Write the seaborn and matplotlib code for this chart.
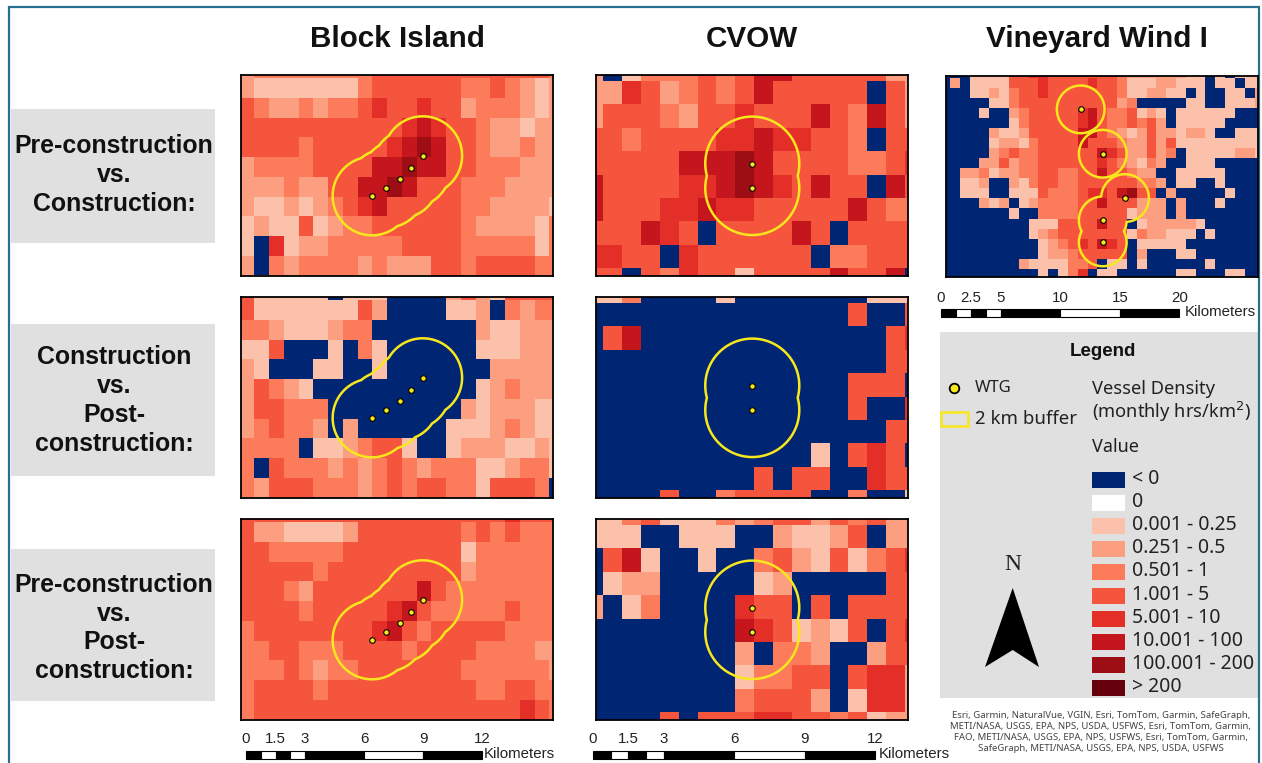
import numpy as np
import matplotlib
matplotlib.use("Agg")
import matplotlib.pyplot as plt
from matplotlib.colors import ListedColormap
from matplotlib.patches import Rectangle, Polygon
import seaborn as sns

W, H = 1262, 763

# class index per cell: 0 "< 0", 1 "0", 2 "0.001 - 0.25" ... 9 "> 200"
CLASS_LABELS = ["< 0", "0", "0.001 - 0.25", "0.251 - 0.5", "0.501 - 1", "1.001 - 5",
                "5.001 - 10", "10.001 - 100", "100.001 - 200", "> 200"]
CLASS_COLORS = ["#002673", "#ffffff", "#fcc1ab", "#fc9e80", "#fb7b5b", "#f5553c",
                "#e32f27", "#c4161c", "#9c0d14", "#67000d"]

BLOCK_PRE_CON = [
    "3444444445555555555554", "3222222245555554454323", "5433434456556553444323",
    "5555555555567655433233", "5555455555678755433433", "3444455557787755444333",
    "3334335577875554443333", "3223234567555554433332", "2322523445555554333324",
    "2062334444455554444424", "3043444434333554555544", "3344444334333555455544",
]
BLOCK_CON_POST = [
    "5222220222000035325555", "5222222253000022304344", "4432223440000000322333",
    "2250002042000000222333", "3200022002000000033333", "3543200000000000234333",
    "3554440000000003233322", "3454430300000022234322", "4444022345520023332232",
    "4054443434543444223442", "4355544434545544255540", "2355555434545544255540",
]
BLOCK_PRE_POST = [
    "5555555555555555556555", "5332222355555554545444", "5544444555555552444444",
    "5555545555555553444444", "5554355555557544444444", "5555455555675444445444",
    "4555555556754555554444", "4455444555545555444433", "4445434455555554444443",
    "4555545555555555445544", "4555555555555555555654", "3445555555555555555654",
]
CVOW_PRE_CON = [
    "302444545775555533", "336534545755555053", "355543556555754753", "554555566766554055",
    "555557778755554456", "755556678765755075", "755566766555557544", "555765055557505555",
    "665506555555044555", "550546552555575570",
]
CVOW_CON_POST = [
    "224000020000000222", "000000000000005005", "057000000000000056", "000000000000000055",
    "000000000000005550", "000000000000005006", "000000000000000055", "000000000000205650",
    "000000000505500655", "000050045555004002",
]
CVOW_PRE_POST = [
    "224522243455354533", "222002220032235033", "057200200453252456", "023300000230000055",
    "302400006550505555", "000000007652325056", "000000003044300355", "000000002445505663",
    "000000004555302663", "000050555665545233",
]
VINEYARD_PRE_CON = [
    "000222255665555555433333322020222", "030222255565555655422233222022022",
    "000223245565555555422332202002203", "000002245555555555340000022002223",
    "000020034555556754452320222222000", "000000024555556754454530222220000",
    "000003223555557754323533233200222", "000002332455557555433535222222222",
    "000003454455555576533534022222332", "000033534455555565432430022200000",
    "003342334455445575543300222220000", "002230032455445555554430220020000",
    "002220022254445665785503000002000", "000032302344445575553330300020000",
    "000000020044445555523330300000000", "000000000222555575502333332000000",
    "000000000234555555524332220200000", "000000000023456576502222200000000",
    "000000000023345555503000220000000", "000000003222244502202000000200000",
    "000000000020246022000000220002200",
]

# turbine positions in km from the panel's top left corner
BLOCK_X = [6.66, 7.39, 8.07, 8.66, 9.24]
BLOCK_Y = [6.15, 5.76, 5.29, 4.73, 4.10]
CVOW_X = [6.65, 6.65]
CVOW_Y = [3.77, 4.81]
VINEYARD_X = [11.30, 13.15, 15.02, 13.15, 13.15]
VINEYARD_Y = [2.80, 6.52, 10.24, 12.11, 13.96]
BUFFER_KM = 2.0

COLUMN_TITLES = ["Block Island", "CVOW", "Vineyard Wind I"]
ROW_TITLES = ["Pre-construction\nvs.\nConstruction:", "Construction\nvs.\nPost-\nconstruction:",
              "Pre-construction\nvs.\nPost-\nconstruction:"]
ATTRIBUTION = ("Esri, Garmin, NaturalVue, VGIN, Esri, TomTom, Garmin, SafeGraph,\n"
               "METI/NASA, USGS, EPA, NPS, USDA, USFWS, Esri, TomTom, Garmin,\n"
               "FAO, METI/NASA, USGS, EPA, NPS, USFWS, Esri, TomTom, Garmin,\n"
               "SafeGraph, METI/NASA, USGS, EPA, NPS, USDA, USFWS")

SCALE_BLOCK = [0, 0.75, 1.5, 2.25, 3, 6, 9, 12]
SCALE_BLOCK_LABELS = ["0", "1.5", "3", "6", "9", "12"]
SCALE_VINEYARD = [0, 1.25, 2.5, 3.75, 5, 10, 15, 20]
SCALE_VINEYARD_LABELS = ["0", "2.5", "5", "10", "15", "20"]

YELLOW = "#f8e71c"
ARIAL = "Liberation Sans"
TAHOMA = "Noto Sans"

sns.set_theme(style="white")
plt.rcParams["font.family"] = [ARIAL, "DejaVu Sans"]
fig = plt.figure(figsize=(W / 100, H / 100), dpi=100, facecolor="white")


def px_axes(x0, y0, x1, y1, **kw):
    return fig.add_axes([x0 / W, 1 - y1 / H, (x1 - x0) / W, (y1 - y0) / H], **kw)


# page layer in pixel coordinates for the furniture around the maps
page = px_axes(0, 0, W, H)
page.set_xlim(0, W)
page.set_ylim(H, 0)
page.axis("off")


def draw_panel(rect, rows, x_start, x_span, y_start, y_span, km_x, km_y, px_per_km):
    ax = px_axes(*rect)
    grid = np.array([[int(c) for c in row] for row in rows])
    sns.heatmap(grid, ax=ax, cmap=ListedColormap(CLASS_COLORS), vmin=-0.5, vmax=9.5, cbar=False,
                xticklabels=False, yticklabels=False, square=False)
    ax.set_xlim(x_start, x_start + x_span)
    ax.set_ylim(y_start + y_span, y_start)
    for side in ax.spines.values():
        side.set_visible(True)
        side.set_color("black")
        side.set_linewidth(1.3)

    # overlay in km for the turbines and their merged 2 km buffer
    w_km = (rect[2] - rect[0]) / px_per_km
    h_km = (rect[3] - rect[1]) / px_per_km
    over = px_axes(*rect)
    over.patch.set_alpha(0)
    over.set_xlim(0, w_km)
    over.set_ylim(h_km, 0)
    over.axis("off")
    xx, yy = np.meshgrid(np.linspace(0, w_km, 700), np.linspace(0, h_km, 500))
    dist = np.min([np.hypot(xx - x, yy - y) for x, y in zip(km_x, km_y)], axis=0)
    over.contour(xx, yy, dist, levels=[BUFFER_KM], colors=YELLOW, linewidths=1.8)
    over.scatter(km_x, km_y, s=16, c=YELLOW, edgecolors="black", linewidths=0.8, zorder=3)


def draw_scale(x0, y0, px_per_km, breaks, labels, y_text, x_word):
    for i, (a, b) in enumerate(zip(breaks[:-1], breaks[1:])):
        page.add_patch(Rectangle((x0 + a * px_per_km, y0), (b - a) * px_per_km, 8,
                                 fc="black" if i % 2 == 0 else "white", ec="black", lw=0.8))
    ticks = [breaks[0], breaks[2], breaks[4], breaks[5], breaks[6], breaks[7]]
    for t, lab in zip(ticks, labels):
        page.text(x0 + t * px_per_km, y_text, lab, ha="center", va="center", fontsize=10.8, color="#222222")
    page.text(x_word, y0 + 3, "Kilometers", ha="left", va="center", fontsize=10.8, color="#222222")


# outer frame, open at the bottom
page.plot([9, 9, 1259, 1259], [H, 7, 7, H], color="#2a6f92", lw=1.6, solid_joinstyle="miter")

for title, cx in zip(COLUMN_TITLES, [397, 752, 1097]):
    page.text(cx, 39, title, ha="center", va="center", fontsize=21.3, fontweight="bold", color="#111111")

for label, (y0, y1), yc in zip(ROW_TITLES, [(109, 243), (324, 476), (549, 701)], [175, 400.5, 628]):
    page.add_patch(Rectangle((11, y0), 204, y1 - y0, fc="#e0e0e0", ec="none"))
    page.text(114, yc, label, ha="center", va="center", fontsize=17.9, fontweight="bold",
              color="#111111", linespacing=1.26)

BLOCK_PX = 19.67
CVOW_PX = 23.5
VINEYARD_PX = 11.92
block_view = (0.1, 21.15, 0.83, 10.2)
cvow_view = (0.61, 16.55, 0.74, 8.6)
vineyard_view = (0.59, 31.76, 0.77, 20.07)

for (y0, y1), block, cvow in zip([(75, 276), (297, 498), (519, 720)],
                                 [BLOCK_PRE_CON, BLOCK_CON_POST, BLOCK_PRE_POST],
                                 [CVOW_PRE_CON, CVOW_CON_POST, CVOW_PRE_POST]):
    draw_panel((241, y0, 553, y1), block, *block_view, BLOCK_X, BLOCK_Y, BLOCK_PX)
    draw_panel((596, y0, 908, y1), cvow, *cvow_view, CVOW_X, CVOW_Y, CVOW_PX)
draw_panel((946, 76, 1258, 277), VINEYARD_PRE_CON, *vineyard_view, VINEYARD_X, VINEYARD_Y, VINEYARD_PX)

draw_scale(246, 750.5, BLOCK_PX, SCALE_BLOCK, SCALE_BLOCK_LABELS, 739, 484)
draw_scale(593, 750.5, CVOW_PX, SCALE_BLOCK, SCALE_BLOCK_LABELS, 739, 879)
draw_scale(941, 309, VINEYARD_PX, SCALE_VINEYARD, SCALE_VINEYARD_LABELS, 298, 1185)

# legend panel
page.add_patch(Rectangle((940, 332), 318, 366, fc="#e0e0e0", ec="none"))
page.text(1103, 351, "Legend", ha="center", va="center", fontsize=13.5, fontweight="bold",
          family=ARIAL, color="#111111")
page.scatter([954], [388], s=48, c=YELLOW, edgecolors="black", linewidths=1.3, zorder=3)
page.text(975, 388, "WTG", ha="left", va="center", fontsize=12, family=TAHOMA, color="#222222")
page.add_patch(Rectangle((941, 412), 27, 14, fc="none", ec=YELLOW, lw=1.8))
page.text(975, 419, "2 km buffer", ha="left", va="center", fontsize=13.4, family=TAHOMA, color="#222222")
page.text(1092, 389, "Vessel Density", ha="left", va="center", fontsize=13.2, family=TAHOMA, color="#222222")
page.text(1092, 412, "(monthly hrs/km$^{2}$)", ha="left", va="center", fontsize=13.2, family=TAHOMA, color="#222222")
page.text(1092, 447, "Value", ha="left", va="center", fontsize=13, family=TAHOMA, color="#222222")
for i, (lab, col) in enumerate(zip(CLASS_LABELS, CLASS_COLORS)):
    yc = 479.5 + i * 23.2
    page.add_patch(Rectangle((1092, yc - 8), 33, 16, fc=col, ec="none"))
    page.text(1132, yc - 1, lab, ha="left", va="center", fontsize=14, family=TAHOMA, color="#222222")

page.text(1013, 565, "N", ha="center", va="center", fontsize=17, family="Liberation Serif", color="#222222")
page.add_patch(Polygon([(1012.7, 588), (985, 667), (1012.7, 650), (1039, 667)], fc="black", ec="none"))
page.text(1101, 732, ATTRIBUTION, ha="center", va="center", fontsize=6.9, family=TAHOMA, color="#444444",
          linespacing=1.25)

fig.savefig("out.png", dpi=100, facecolor="white")
